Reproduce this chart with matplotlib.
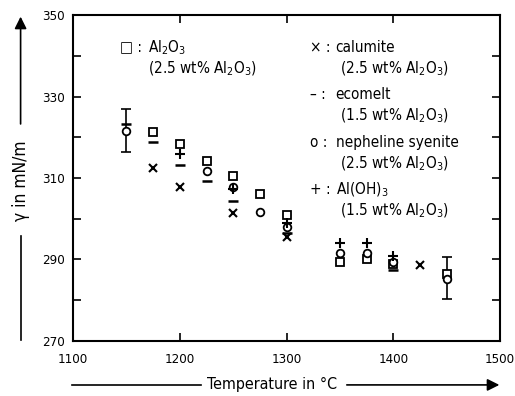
import matplotlib
matplotlib.use("Agg")
from matplotlib import pyplot as plt

plt.rcParams['font.family'] = ['DejaVu Sans']
plt.rcParams['font.stretch'] = 'condensed'
plt.rcParams['mathtext.fontset'] = 'custom'
plt.rcParams['mathtext.rm'] = 'DejaVu Sans:stretch=condensed'
plt.rcParams['mathtext.it'] = 'DejaVu Sans:italic:stretch=condensed'

# Al2O3 (squares)
t_al2o3 = [1175, 1200, 1225, 1250, 1275, 1300, 1350, 1375, 1400, 1450]
g_al2o3 = [321.3, 318.3, 314.1, 310.4, 306.0, 300.9, 289.5, 290.0, 289.0, 286.5]
# calumite (x)
t_calumite = [1175, 1200, 1250, 1300, 1425]
g_calumite = [312.4, 307.7, 301.4, 295.6, 288.6]
# ecomelt (dash)
t_ecomelt = [1150, 1175, 1200, 1225, 1250, 1300, 1400]
g_ecomelt = [323.2, 318.8, 313.1, 309.2, 304.3, 296.6, 287.3]
# nepheline syenite (circles)
t_nepheline = [1150, 1225, 1250, 1275, 1300, 1350, 1375, 1400, 1450]
g_nepheline = [321.5, 311.7, 307.8, 301.6, 298.0, 291.6, 291.6, 289.5, 285.2]
# Al(OH)3 (plus)
t_aloh3 = [1200, 1250, 1300, 1350, 1375, 1400]
g_aloh3 = [315.8, 307.3, 299.0, 294.0, 294.0, 290.8]
# error bars
t_err = [1150, 1450]
g_err = [321.7, 285.4]
e_err = [5.2, 5.1]

fig = plt.figure(figsize=(5.15, 3.96), dpi=100)
ax = fig.add_axes([0.142, 0.139, 0.829, 0.823])

ms = 5.5
ax.errorbar(t_err, g_err, yerr=e_err, fmt='none', ecolor='black', elinewidth=1.2, capsize=3.6, capthick=1.2)
ax.plot(t_al2o3, g_al2o3, 's', ms=ms, mfc='white', mec='black', mew=1.3, ls='none')
ax.plot(t_nepheline, g_nepheline, 'o', ms=ms, mfc='white', mec='black', mew=1.3, ls='none')
ax.plot(t_calumite, g_calumite, 'x', ms=ms, color='black', mew=1.5, ls='none')
ax.plot(t_ecomelt, g_ecomelt, '_', ms=ms + 1, color='black', mew=1.8, ls='none')
ax.plot(t_aloh3, g_aloh3, '+', ms=ms + 1, color='black', mew=1.5, ls='none')

ax.set_xlim(1100, 1500)
ax.set_ylim(270, 350)
ax.set_xticks([1100, 1200, 1300, 1400, 1500])
ax.set_yticks([270, 290, 310, 330, 350])
ax.set_yticks([280, 300, 320, 340], minor=True)
ax.tick_params(direction='in', top=True, right=True, length=6, width=1.2, labelsize=9.5)
ax.tick_params(axis='x', pad=9)
ax.tick_params(axis='y', pad=6)
ax.tick_params(which='minor', direction='in', right=True, length=6, width=1.2)
for s in ax.spines.values():
    s.set_linewidth(1.5)

# legend as text
fs = 11
ax.text(0.11, 0.90, '\u25a1 :', transform=ax.transAxes, fontsize=fs, va='center')
ax.text(0.175, 0.90, r'Al$_2$O$_3$', transform=ax.transAxes, fontsize=fs, va='center')
ax.text(0.175, 0.835, r'(2.5 wt% Al$_2$O$_3$)', transform=ax.transAxes, fontsize=fs, va='center')

lx = 0.555
tx = 0.615
rows = [('\u00d7 :', 'calumite', r'(2.5 wt% Al$_2$O$_3$)', 0.90),
        ('\u2013 :', 'ecomelt', r'(1.5 wt% Al$_2$O$_3$)', 0.755),
        ('o :', 'nepheline syenite', r'(2.5 wt% Al$_2$O$_3$)', 0.61),
        ('+ :', r'Al(OH)$_3$', r'(1.5 wt% Al$_2$O$_3$)', 0.465)]
for sym, name, sub, y in rows:
    ax.text(lx, y, sym, transform=ax.transAxes, fontsize=fs, va='center')
    ax.text(tx, y, name, transform=ax.transAxes, fontsize=fs, va='center')
    ax.text(tx + 0.01, y - 0.065, sub, transform=ax.transAxes, fontsize=fs, va='center')

# axis labels with arrows
fig.text(0.528, 0.028, 'Temperature in \u00b0C', fontsize=11.5, ha='center', va='center')
fig.add_artist(matplotlib.lines.Line2D([0.14, 0.39], [0.028, 0.028], color='black', lw=1.2))
fig.add_artist(matplotlib.patches.FancyArrowPatch((0.668, 0.028), (0.975, 0.028), transform=fig.transFigure,
                                                  arrowstyle='-|>', mutation_scale=18, color='black', lw=1.2))
fig.text(0.04, 0.543, '\u03b3 in mN/m', fontsize=12.5, rotation=90, ha='center', va='center')
fig.add_artist(matplotlib.lines.Line2D([0.04, 0.04], [0.141, 0.405], color='black', lw=1.2))
fig.add_artist(matplotlib.patches.FancyArrowPatch((0.04, 0.68), (0.04, 0.965), transform=fig.transFigure,
                                                  arrowstyle='-|>', mutation_scale=18, color='black', lw=1.2))

fig.savefig('out.png', dpi=100)
